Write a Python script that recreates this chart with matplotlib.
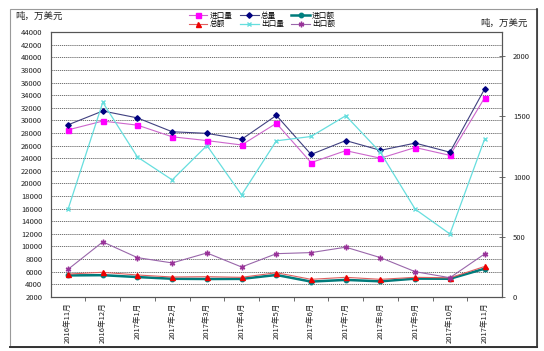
import matplotlib
matplotlib.use('Agg')
import matplotlib.pyplot as plt
from matplotlib.patches import Rectangle
from matplotlib.lines import Line2D

plt.rcParams['font.family'] = ['Noto Sans CJK SC', 'DejaVu Sans']

months = ['2016年11月', '2016年12月', '2017年1月', '2017年2月', '2017年3月', '2017年4月',
          '2017年5月', '2017年6月', '2017年7月', '2017年8月', '2017年9月', '2017年10月',
          '2017年11月']

# left axis (吨 / 万美元)
total_vol = [29300, 31500, 30400, 28200, 27950, 27000, 30800, 24600, 26800, 25250, 26400, 24950, 35000]
import_vol = [28500, 29900, 29250, 27400, 26800, 26100, 29550, 23300, 25200, 24000, 25700, 24450, 33600]
total_val = [5600, 5880, 5450, 5130, 5180, 5080, 5810, 4760, 5080, 4760, 5080, 5000, 6800]
import_val = [5380, 5420, 5120, 4850, 4810, 4830, 5450, 4400, 4670, 4440, 4870, 4850, 6450]
# right axis
export_vol = [728, 1617, 1162, 972, 1258, 847, 1297, 1333, 1506, 1200, 728, 522, 1312]
export_val = [228, 456, 325, 281, 364, 247, 358, 367, 412, 325, 208, 158, 356]

FS = 5.5
x = list(range(len(months)))

fig = plt.figure(figsize=(5.44, 3.51), dpi=100)
fig.patch.set_facecolor('white')

# outer chart frame
fig.add_artist(Rectangle((10 / 544, 1 - 347 / 351), 527 / 544, 338 / 351,
                         transform=fig.transFigure, fill=False, edgecolor='#9a9a9a', linewidth=0.8))
fig.add_artist(Line2D([10 / 544, 537 / 544], [1 - 347 / 351] * 2, transform=fig.transFigure,
                      color='#333333', linewidth=1.4))
fig.add_artist(Line2D([537 / 544] * 2, [1 - 347 / 351, 1 - 9 / 351], transform=fig.transFigure,
                      color='#333333', linewidth=1.2))

ax = fig.add_axes([50.7 / 544, 1 - 296.7 / 351, 451.3 / 544, 264.4 / 351])
ax2 = ax.twinx()

ax.set_ylim(2000, 44000)
ax.set_yticks(range(2000, 44001, 2000))
ax2.set_ylim(0, 2200)
ax2.set_yticks(range(0, 2001, 500))
ax.set_xlim(-0.5, len(months) - 0.5)

for yv in range(4000, 44000, 2000):
    ax.axhline(yv, color='#5a5a5a', linewidth=0.6, linestyle=(0, (1.5, 1)), zorder=0)

l1, = ax.plot(x, import_vol, color='#cc66cc', lw=0.8, marker='s', ms=3.6,
              mfc='#ff00ff', mec='#ff00ff', label='进口量', zorder=4)
l2, = ax.plot(x, total_vol, color='#404080', lw=0.8, marker='D', ms=2.8,
              mfc='#000080', mec='#000080', label='总量', zorder=5)
l3, = ax.plot(x, import_val, color='#007b7b', lw=1.8, marker='o', ms=3.2,
              mfc='#008080', mec='#008080', label='进口额', zorder=4)
l4, = ax.plot(x, total_val, color='#e06060', lw=0.8, marker='^', ms=3.6,
              mfc='#ee0000', mec='#ee0000', label='总额', zorder=5)
l5, = ax2.plot(x, export_vol, color='#66dede', lw=0.9, marker='x', ms=3.2,
               mec='#66dede', label='出口量', zorder=3)
l6, = ax2.plot(x, export_val, color='#9966aa', lw=0.8, marker=(6, 2, 0), ms=4,
               mec='#993399', label='出口额', zorder=3)

ax.set_xticks([i + 0.5 for i in range(len(months) - 1)], minor=False)
ax.set_xticklabels([])
ax.set_xticks(x, minor=True)
ax.set_xticklabels(months, minor=True, rotation=90, fontsize=FS, color='#222222')
ax.tick_params(axis='x', which='major', direction='out', length=3, width=0.6, color='#555555')
ax.tick_params(axis='x', which='minor', length=0, pad=4)
ax.tick_params(axis='y', direction='in', length=0, labelsize=FS, pad=6, colors='#222222')
ax2.tick_params(axis='y', direction='inout', length=4, width=0.6, labelsize=FS, pad=6,
                color='#555555', labelcolor='#222222')

for a in (ax, ax2):
    for s in a.spines.values():
        s.set_color('#555555')
        s.set_linewidth(0.8)

fig.text(15 / 544, 1 - 16 / 351, '吨，万美元', fontsize=6.8, va='center', ha='left', color='#222222')
fig.text(528 / 544, 1 - 23 / 351, '吨，万美元', fontsize=6.8, va='center', ha='right', color='#222222')

leg = fig.legend(handles=[l1, l4, l2, l5, l3, l6], ncol=3, loc='center',
                 bbox_to_anchor=(262 / 544, 1 - 20 / 351), frameon=False,
                 fontsize=FS, handlelength=2.4, columnspacing=1.0, labelspacing=0.05,
                 handletextpad=0.3, borderpad=0)

fig.savefig('out.png', dpi=100, facecolor='white')
